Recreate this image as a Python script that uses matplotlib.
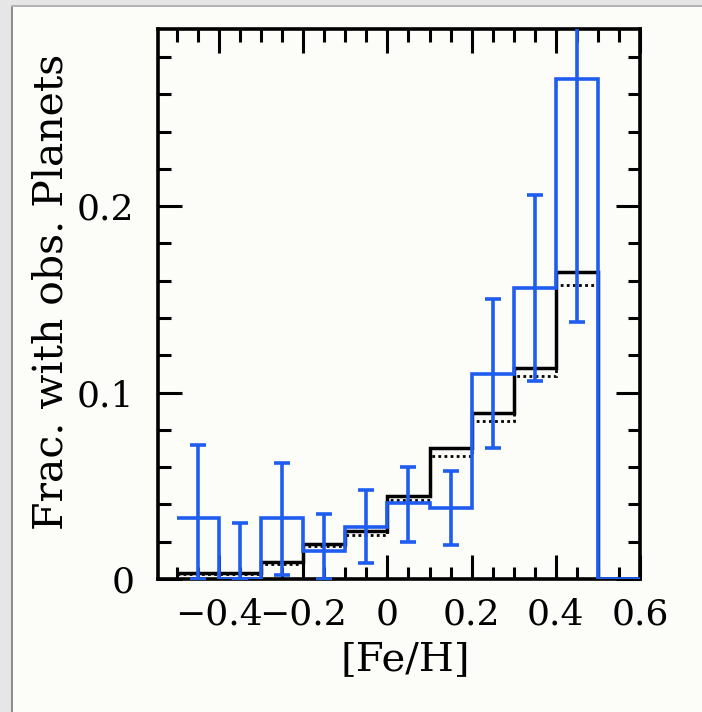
import numpy as np
import matplotlib
matplotlib.use('Agg')
import matplotlib.pyplot as plt
from matplotlib.patches import Rectangle
from matplotlib.ticker import MultipleLocator, FixedLocator, FuncFormatter

# bin edges in [Fe/H]
edges = [-0.5, -0.4, -0.3, -0.2, -0.1, 0.0, 0.1, 0.2, 0.3, 0.4, 0.5, 0.6]
centers = [-0.45, -0.35, -0.25, -0.15, -0.05, 0.05, 0.15, 0.25, 0.35, 0.45]

# observed fraction (blue) with error bar ends
obs_frac = [0.0325, 0.0, 0.0325, 0.0152, 0.028, 0.0405, 0.038, 0.110, 0.156, 0.268, 0.0]
obs_err_top = [0.072, 0.030, 0.062, 0.035, 0.048, 0.060, 0.058, 0.150, 0.206, 0.40]
obs_err_bot = [0.0, 0.0, 0.002, 0.0, 0.0084, 0.020, 0.018, 0.070, 0.106, 0.138]

# model fractions (black solid and dotted)
model_solid = [0.0034, 0.0034, 0.0093, 0.019, 0.026, 0.0446, 0.0703, 0.0893, 0.1134, 0.1646, 0.0]
model_dotted = [0.0025, 0.0025, 0.008, 0.0178, 0.0236, 0.0425, 0.066, 0.0848, 0.1087, 0.1575, 0.0]

blue = '#1f5cf0'
plt.rcParams['font.family'] = ['DejaVu Serif']

fig = plt.figure(figsize=(7.02, 7.12), dpi=100, facecolor='#fcfcf9')
ax = fig.add_axes([158/702, 1-579/712, (640-158)/702, (579-29)/712])
ax.set_facecolor('#fcfcf9')

ax.stairs(model_dotted, edges, baseline=None, color='black', lw=2.0, ls=(0, (1, 1.2)))
ax.stairs(model_solid, edges, baseline=None, color='black', lw=2.5)
ax.stairs(obs_frac, edges, baseline=None, color=blue, lw=2.6, zorder=3)

vals = np.array(obs_frac[:10])
yerr = [vals - np.array(obs_err_bot), np.array(obs_err_top) - vals]
ax.errorbar(centers, vals, yerr=yerr, fmt='none', ecolor=blue,
            elinewidth=2.6, capsize=6, capthick=2.6, zorder=3)

ax.set_xlim(-0.545, 0.6)
ax.set_ylim(0, 0.295)

ax.xaxis.set_major_locator(MultipleLocator(0.2))
ax.xaxis.set_minor_locator(MultipleLocator(0.05))
ax.yaxis.set_major_locator(FixedLocator([0, 0.1, 0.2]))
ax.yaxis.set_minor_locator(MultipleLocator(0.02))

def fmt(v, pos):
    s = '%g' % round(v, 3)
    if s == '-0':
        s = '0'
    return s.replace('-', '\u2212')

ax.xaxis.set_major_formatter(FuncFormatter(fmt))
ax.yaxis.set_major_formatter(FuncFormatter(fmt))

ax.tick_params(which='both', direction='in', top=True, right=True, width=2.2, labelsize=26)
ax.tick_params(which='major', length=17)
ax.tick_params(which='minor', length=9)
ax.tick_params(axis='x', pad=13)
ax.tick_params(axis='y', pad=17)
for sp in ax.spines.values():
    sp.set_linewidth(2.6)

ax.set_xlabel('[Fe/H]', fontsize=29)
ax.set_ylabel('Frac. with obs. Planets', fontsize=29.5)
ax.yaxis.set_label_coords(-0.18, 0.522)
ax.xaxis.set_label_coords(0.514, -0.112)
ax.xaxis.label.set_va('top')

# screenshot frame
fig.add_artist(Rectangle((0, 0), 11/702, 1, transform=fig.transFigure, color='#e6e6e6', lw=0))
fig.add_artist(Rectangle((0, 1-5/712), 1, 5/712, transform=fig.transFigure, color='#e6e6e6', lw=0))
fig.add_artist(Rectangle((11/702, 0), 2/702, 1-5/712, transform=fig.transFigure, color='#8c8c8c', lw=0))
fig.add_artist(Rectangle((11/702, 1-7/712), 1, 2/712, transform=fig.transFigure, color='#b4b4b4', lw=0))

fig.savefig('out.png', dpi=100, facecolor=fig.get_facecolor())
